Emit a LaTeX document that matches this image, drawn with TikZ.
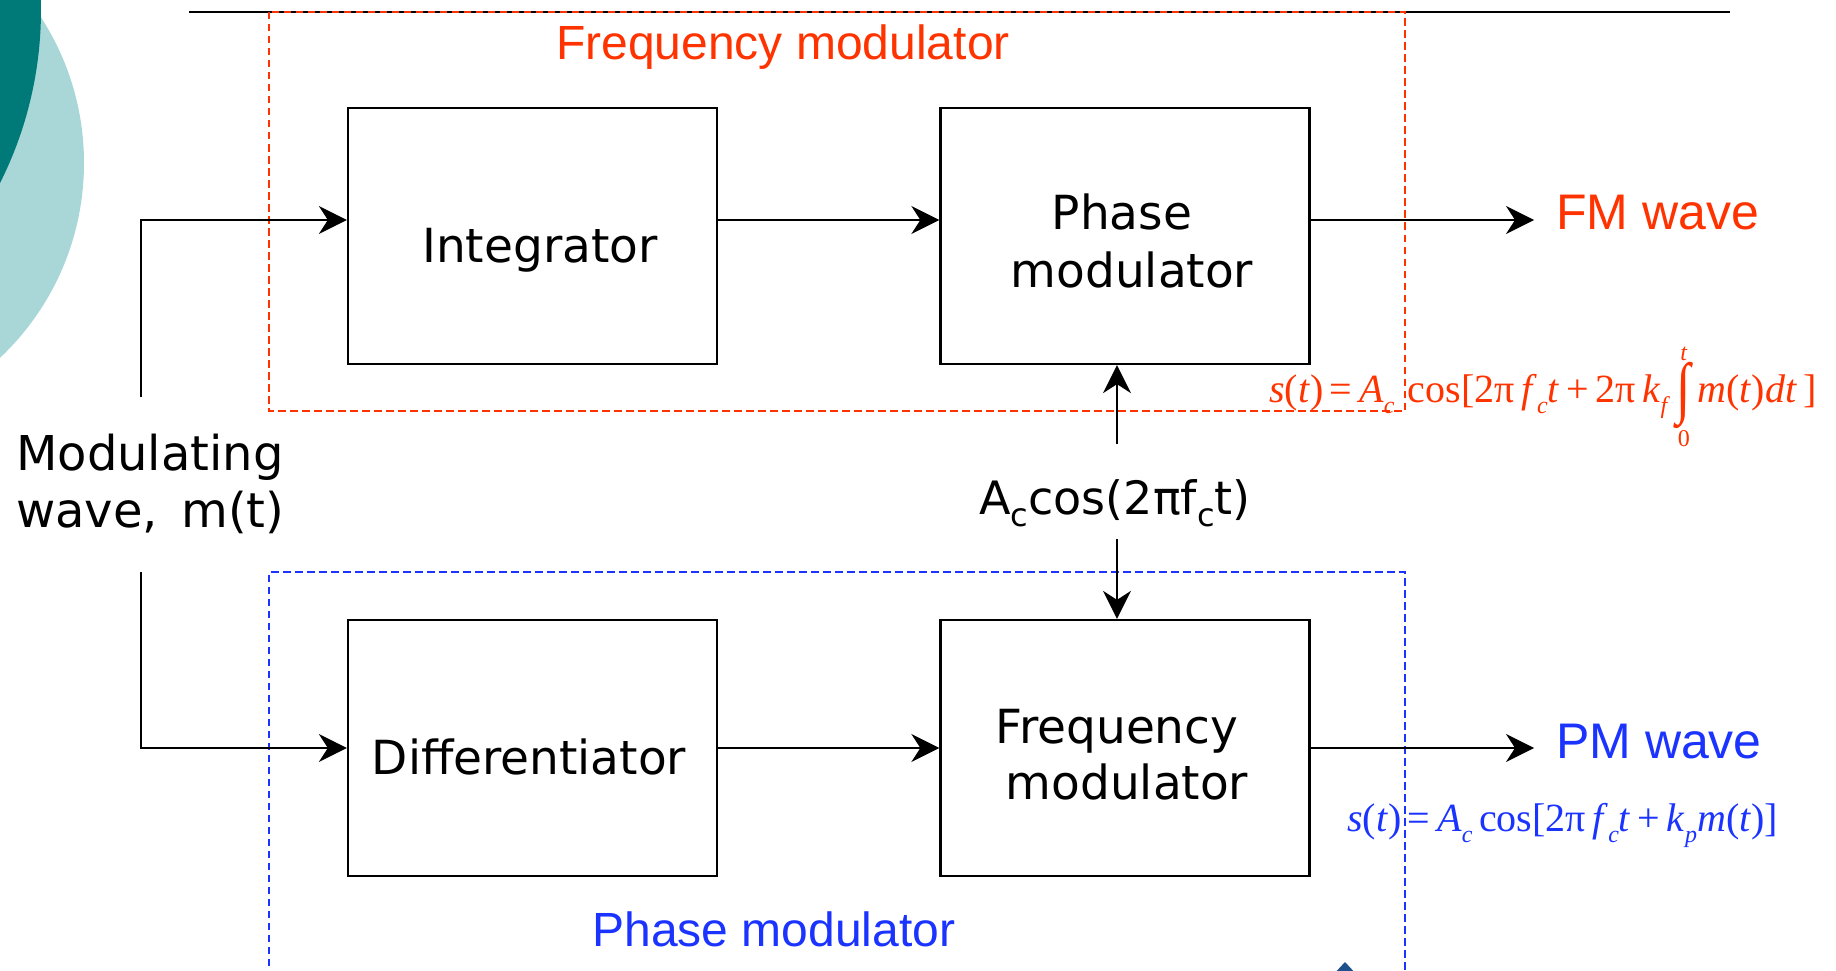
\documentclass[tikz,border=0pt]{standalone}
\usepackage{graphicx}
\usepackage{fontspec}
\setmainfont{DejaVu Sans}
\newfontfamily\arl{Liberation Sans}
\newfontfamily\tms{Liberation Serif}
\usetikzlibrary{arrows.meta}
\definecolor{fmred}{RGB}{255,51,0}
\definecolor{pmblue}{RGB}{26,51,255}
\definecolor{tealdark}{RGB}{0,122,120}
\definecolor{teallight}{RGB}{169,215,216}
\definecolor{iconblue}{RGB}{30,80,140}
\newcommand\sbs[1]{\raisebox{-0.28em}{\fontsize{24}{24}\selectfont\textit{#1}}}
\newcommand\ssub[1]{\raisebox{-12pt}{\fontsize{32}{32}\selectfont #1}}
\newcommand\myint{$\displaystyle\mathop{\vcenter{\hbox{\fontsize{52}{52}\selectfont\scalebox{1}[1.3]{∫}}}}\limits^{\hbox{\fontsize{24}{24}\selectfont\textit{t}}}_{\hbox{\fontsize{24}{24}\selectfont 0}}$}
\begin{document}
\begin{tikzpicture}[x=1pt,y=-1pt,
  blk/.style={draw=black,line width=2.3pt,minimum width=369pt,minimum height=256pt,inner sep=0pt},
  wire/.style={line width=2pt},
  arr/.style={line width=2pt,-{Stealth[length=28pt,width=28pt,inset=9pt]}},
  btxt/.style={font=\fontsize{47}{58}\selectfont,anchor=base,inner sep=0pt},
  ltxt/.style={font=\fontsize{48}{58}\selectfont,anchor=base west,inner sep=0pt},
  ttl/.style={font=\arl\fontsize{48}{58}\selectfont,anchor=base,inner sep=0pt},
  wav/.style={font=\arl\fontsize{50}{60}\selectfont,anchor=base west,inner sep=0pt},
  fml/.style={font=\tms\fontsize{40}{48}\selectfont,anchor=base west,inner sep=0pt},
  dsh/.style={line width=1.7pt,dash pattern=on 7.5pt off 4.5pt}]
\useasboundingbox (0,0) rectangle (1836,971);
\clip (0,0) rectangle (1836,971);
% decorative circles
\fill[teallight] (-184,163) circle (268);
\fill[tealdark] (-344,10) circle (385);
% top rule
\draw[line width=2.5pt] (189,12) -- (1730,12);
% group frames
\draw[fmred,dsh] (269,12) rectangle (1405,411);
\draw[pmblue,dsh] (269,990) -- (269,572) -- (1405,572) -- (1405,990);
% blocks
\node[blk] (int) at (532.5,236) {};
\node[blk] (pm) at (1125,236) {};
\node[blk] (dif) at (532.5,748) {};
\node[blk] (fq) at (1125,748) {};
\node[btxt] (intT) at (540,262) {Integrator};
\node[btxt] (pmT1) at (1122,229) {Phase};
\node[btxt] (pmT2) at (1132,287) {modulator};
\node[btxt] (difT) at (529,774) {Differentiator};
\node[btxt] (fqT1) at (1117,743) {Frequency};
\node[btxt] (fqT2) at (1127,799) {modulator};
% labels
\node[ltxt] (mod1) at (16,470) {Modulating};
\node[ltxt] (mod2) at (16,527) {wave,\, m(t)};
\node[font=\fontsize{46}{56}\selectfont,anchor=base,inner sep=0pt] (car) at (1115,514) {A\ssub{c}cos(2πf\ssub{c}t)};
\node[ttl,text=fmred] (fmT) at (783,60) {Frequency modulator};
\node[ttl,text=pmblue] (pmTl) at (774,946) {Phase modulator};
\node[wav,text=fmred] (fmw) at (1556,229) {FM wave};
\node[wav,text=pmblue] (pmw) at (1556,758) {PM wave};
\node[fml,text=fmred] (fmf) at (1269,402) {\textit{s}(\textit{t})\,=\,\textit{A}\sbs{c}\,\,cos[2π\,\textit{f}\sbs{c}\textit{t}\,+\,2π\,\textit{k}\sbs{f}\,\myint\,\textit{m}(\textit{t})\textit{dt}\,]};
\node[fml,text=pmblue] (pmf) at (1347,831) {\textit{s}(\textit{t})\,=\,\textit{A}\sbs{c}\,cos[2π\,\textit{f}\sbs{c}\textit{t}\,+\,\textit{k}\sbs{p}\textit{m}(\textit{t})]};
% connectors
\coordinate (in1) at (141,397);
\coordinate (in2) at (141,572);
\coordinate (out1) at (1534,220);
\coordinate (out2) at (1534,748);
\coordinate (cu) at (1117,444);
\coordinate (cd) at (1117,539);
\draw[arr] (in1) |- ([yshift=16pt]int.west);
\draw[arr] (in2) |- (dif.west);
\draw[arr] ([yshift=16pt]int.east) -- ([yshift=16pt]pm.west);
\draw[arr] ([yshift=16pt]pm.east) -- (out1);
\draw[arr] (dif.east) -- (fq.west);
\draw[arr] (fq.east) -- (out2);
\draw[arr] (cu) -- (cu |- pm.south);
\draw[arr] (cd) -- (cd |- fq.north);
% icon fragment at bottom edge
\fill[iconblue] (1345,962) -- (1358,976) -- (1332,976) -- cycle;
\end{tikzpicture}
\end{document}
